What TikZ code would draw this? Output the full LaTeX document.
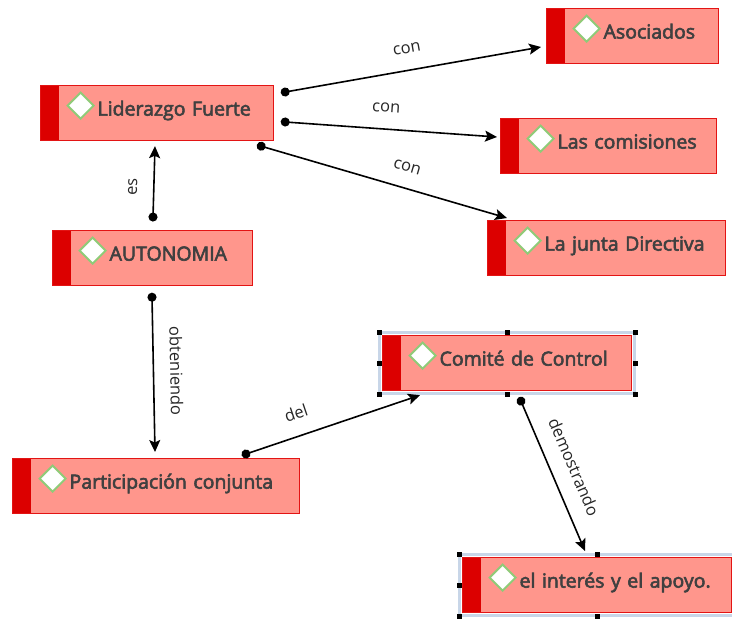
\documentclass[tikz,border=0pt]{standalone}
\usepackage{fontspec}
\newfontfamily\nodefont{Open Sans}[FakeBold=3]
\newfontfamily\labelfont{Open Sans}
\usetikzlibrary{arrows.meta}
\definecolor{relleno}{HTML}{FF968C}
\definecolor{borde}{HTML}{E31414}
\definecolor{barra}{HTML}{DC0000}
\definecolor{icono}{HTML}{8FCB78}
\definecolor{texto}{HTML}{404040}
\definecolor{marco}{HTML}{C8D6E8}
\tikzset{
	concepto/.style={rectangle, draw=borde, fill=relleno, line width=1.2pt,
		anchor=north west, inner xsep=0pt, inner ysep=0pt,
		text width=#1, align=left, text height=30pt, text depth=25pt,
		font=\nodefont\fontsize{19.5}{21}\selectfont, text=texto,
		execute at begin node={\noindent\hspace*{57pt}},
		path picture={
			\fill[barra] (path picture bounding box.north west) rectangle ([xshift=18pt]path picture bounding box.south west);
			\draw[icono, fill=white, line width=2pt] ([shift={(27pt,-20pt)}]path picture bounding box.north west)
			-- ++(13pt,13pt) -- ++(13pt,-13pt) -- ++(-13pt,-13pt) -- cycle;
		}},
	link/.style={{Circle[length=9pt]}-{Stealth[length=12pt,width=11pt,inset=2.5pt]}, line width=1.6pt, shorten <=-4.5pt},
	etiqueta/.style={font=\labelfont\fontsize{16.5}{18}\selectfont, text=black!85, sloped, above=14pt, inner sep=0pt, text height=8pt, text depth=2pt}
}
\begin{document}
\begin{tikzpicture}[x=1pt,y=-1pt]
	\clip (0,0) rectangle (732,619);
	% conceptos
	\node[concepto=172pt] (aso) at (546,8) {Asociados};
	\node[concepto=233pt] (lid) at (40,85) {Liderazgo Fuerte};
	\node[concepto=216pt] (com) at (500,118) {Las comisiones};
	\node[concepto=238pt] (jun) at (487,220) {La junta Directiva};
	\node[concepto=200pt] (aut) at (52,230) {AUTONOMIA};
	\node[concepto=249pt] (ctl) at (382,335) {Comité de Control};
	\node[concepto=287pt] (par) at (12,458) {Participación conjunta};
	\node[concepto=269pt] (int) at (462,557) {el interés y el apoyo.};
	% seleccion
	\foreach \n in {ctl,int} {
		\draw[marco, line width=3.5pt] ([shift={(-2.5,-2.5)}]\n.north west) rectangle ([shift={(2.5,2.5)}]\n.south east);
		\foreach \a/\dx/\dy in {north west/-3/-3, north/0/-3, north east/3/-3, east/3/0, south east/3/3, south/0/3, south west/-3/3, west/-3/0}
		\fill ([shift={(\dx,\dy)}]\n.\a) +(-2.5,-2.5) rectangle +(2.5,2.5);
	}
	% enlaces
	\draw[link] ([shift={(11,7)}]lid.north east) -- ([shift={(-5,39)}]aso.north west) node[etiqueta,pos=.49]{con};
	\draw[link] ([shift={(11,37)}]lid.north east) -- ([shift={(-3,19)}]com.north west) node[etiqueta,pos=.47]{con};
	\draw[link] ([shift={(-13,5)}]lid.south east) -- ([shift={(20,-2)}]jun.north west) node[etiqueta,pos=.57]{con};
	\draw[link] ([shift={(101,-13)}]aut.north west) -- ([shift={(115,5)}]lid.south west) node[etiqueta,pos=.42]{es};
	\draw[link] ([shift={(100,11)}]aut.south west) -- ([shift={(143,-6)}]par.north west) node[etiqueta,pos=.48]{obteniendo};
	\draw[link] ([shift={(234,-4)}]par.north west) -- ([shift={(38,4)}]ctl.south west) node[etiqueta,pos=.33]{del};
	\draw[link] ([shift={(139,10)}]ctl.south west) -- ([shift={(123,-6)}]int.north west) node[etiqueta,pos=.5]{demostrando};
\end{tikzpicture}
\end{document}
